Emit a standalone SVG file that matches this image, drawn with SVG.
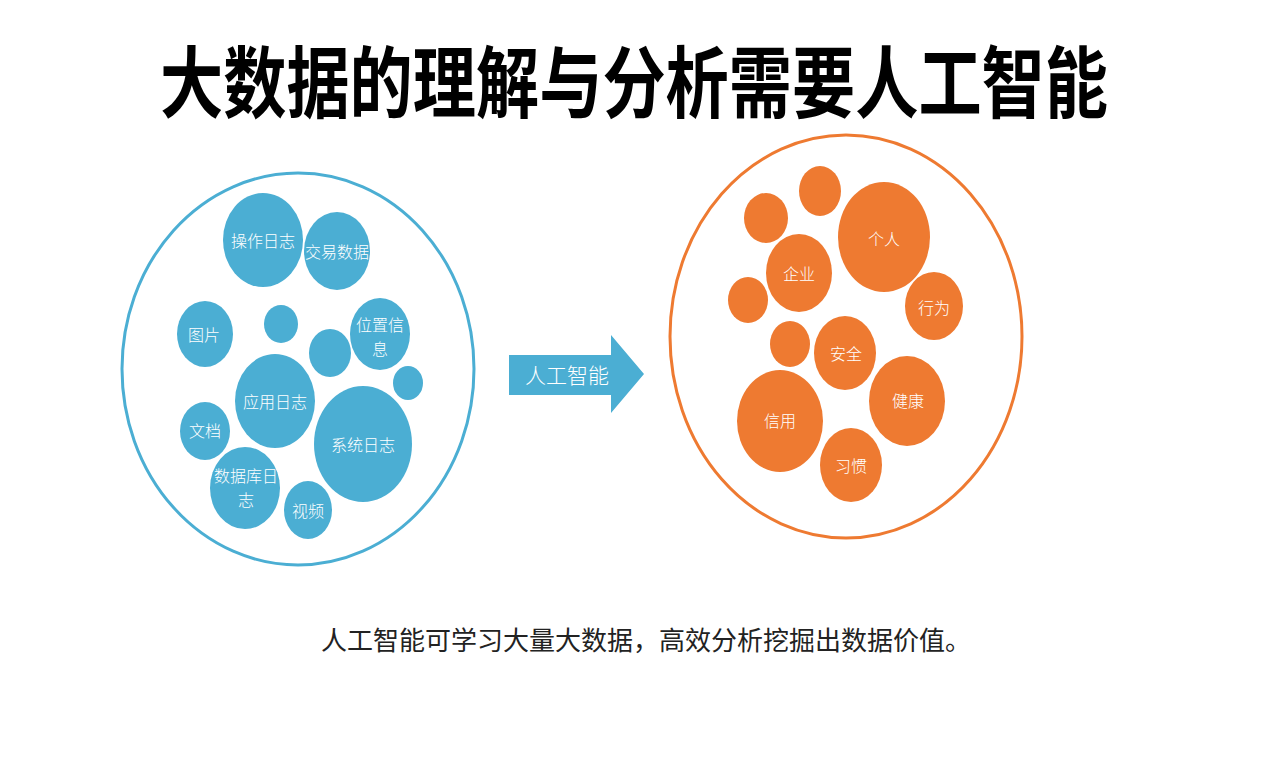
<svg xmlns="http://www.w3.org/2000/svg" width="1270" height="757" viewBox="0 0 1270 757">
<style>
.t{font-family:"Noto Sans CJK SC","Noto Sans",sans-serif;}
.lb{font-family:"Noto Sans CJK SC","Noto Sans",sans-serif;font-size:16px;font-weight:300;fill:#ffffff;text-anchor:middle;}
.b{fill:#4BAED3;}
.o{fill:#EE7A31;}
</style>
<rect width="1270" height="757" fill="#ffffff"/>
<text class="t" x="634" y="112" font-size="68" font-weight="bold" text-anchor="middle" fill="#000000" textLength="948" lengthAdjust="spacingAndGlyphs" transform="translate(0,112) scale(1,1.16) translate(0,-112)">大数据的理解与分析需要人工智能</text>

<g id="left-group">
<ellipse cx="298" cy="369" rx="176" ry="196" fill="none" stroke="#4BAED3" stroke-width="3"/>
</g>
<g id="n-caozuo"><ellipse class="b" cx="263" cy="240" rx="40" ry="47"/><text class="lb" x="263" y="247">操作日志</text></g>
<g id="n-jiaoyi"><ellipse class="b" cx="337" cy="251" rx="33" ry="39"/><text class="lb" x="337" y="258">交易数据</text></g>
<g id="n-tupian"><ellipse class="b" cx="205" cy="334" rx="28" ry="33"/><text class="lb" x="204" y="341">图片</text></g>
<g id="n-b1"><ellipse class="b" cx="281" cy="324" rx="17" ry="19"/></g>
<g id="n-b2"><ellipse class="b" cx="330" cy="353" rx="21" ry="24"/></g>
<g id="n-weizhi"><ellipse class="b" cx="380" cy="334" rx="30" ry="36"/><text class="lb"><tspan x="380" y="331">位置信</tspan><tspan x="380" y="355">息</tspan></text></g>
<g id="n-b3"><ellipse class="b" cx="408" cy="383" rx="15" ry="17"/></g>
<g id="n-yingyong"><ellipse class="b" cx="275" cy="401" rx="40" ry="47"/><text class="lb" x="275" y="408">应用日志</text></g>
<g id="n-xitong"><ellipse class="b" cx="363" cy="444" rx="49" ry="58"/><text class="lb" x="363" y="451">系统日志</text></g>
<g id="n-wendang"><ellipse class="b" cx="205" cy="431" rx="25" ry="29"/><text class="lb" x="205" y="437">文档</text></g>
<g id="n-shujuku"><ellipse class="b" cx="245" cy="488" rx="35" ry="41"/><text class="lb"><tspan x="246" y="482">数据库日</tspan><tspan x="246" y="506">志</tspan></text></g>
<g id="n-shipin"><ellipse class="b" cx="308" cy="510" rx="24" ry="29"/><text class="lb" x="308" y="517">视频</text></g>

<g id="connectors">
<polygon points="509,355 611,355 611,335 644,374 611,413 611,395 509,395" fill="#4BAED3"/>
<text class="t" x="567" y="383" font-size="21" font-weight="300" fill="#ffffff" text-anchor="middle">人工智能</text>
</g>

<g id="right-group">
<ellipse cx="846" cy="336.5" rx="176" ry="201.5" fill="none" stroke="#EE7A31" stroke-width="3"/>
</g>
<g id="n-o1"><ellipse class="o" cx="820" cy="191" rx="21" ry="25"/></g>
<g id="n-o2"><ellipse class="o" cx="766" cy="218" rx="22" ry="25"/></g>
<g id="n-geren"><ellipse class="o" cx="884" cy="237" rx="46" ry="55"/><text class="lb" x="884" y="245">个人</text></g>
<g id="n-qiye"><ellipse class="o" cx="799" cy="273" rx="33" ry="39"/><text class="lb" x="799" y="280">企业</text></g>
<g id="n-o3"><ellipse class="o" cx="748" cy="300" rx="20" ry="23"/></g>
<g id="n-xingwei"><ellipse class="o" cx="934" cy="306" rx="29" ry="34"/><text class="lb" x="934" y="314">行为</text></g>
<g id="n-o4"><ellipse class="o" cx="790" cy="344" rx="20" ry="23"/></g>
<g id="n-anquan"><ellipse class="o" cx="845" cy="353" rx="31" ry="37"/><text class="lb" x="846" y="360">安全</text></g>
<g id="n-jiankang"><ellipse class="o" cx="907" cy="401" rx="38" ry="45"/><text class="lb" x="908" y="407">健康</text></g>
<g id="n-xinyong"><ellipse class="o" cx="780" cy="421" rx="43" ry="51"/><text class="lb" x="780" y="427">信用</text></g>
<g id="n-xiguan"><ellipse class="o" cx="851" cy="465" rx="31" ry="37"/><text class="lb" x="851" y="472">习惯</text></g>

<text class="t" x="646" y="650" font-size="26" fill="#222222" text-anchor="middle">人工智能可学习大量大数据，高效分析挖掘出数据价值。</text>
</svg>
